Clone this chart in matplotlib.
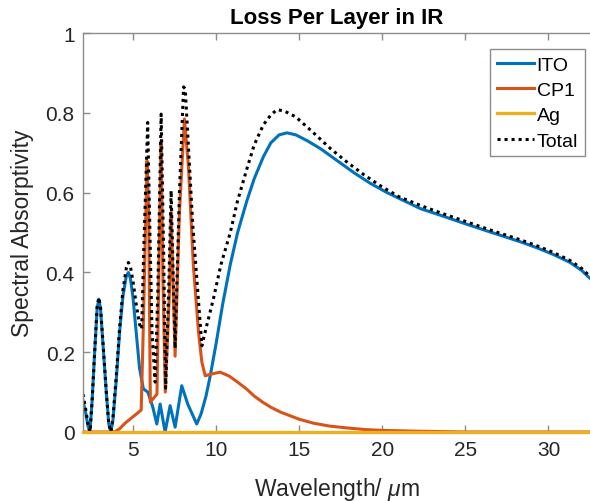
import matplotlib.pyplot as plt

plt.rcParams['font.family'] = ['Liberation Sans', 'DejaVu Sans']
plt.rcParams['mathtext.fontset'] = 'custom'
plt.rcParams['mathtext.rm'] = 'Liberation Sans'
plt.rcParams['mathtext.it'] = 'Liberation Sans:italic'

# absorptivity per layer (wavelength in um)
wl_ito = [2.0, 2.15, 2.3, 2.42, 2.55, 2.7, 2.85, 2.95, 3.05, 3.2, 3.4, 3.55, 3.68, 3.8,
          4.0, 4.2, 4.4, 4.6, 4.73, 4.85, 5.0, 5.2, 5.4, 5.63,
          5.9, 6.2, 6.44, 6.64, 6.94, 7.24, 7.54, 7.94, 8.3, 8.84, 9.1, 9.4, 9.65, 10.0,
          10.4, 10.86, 11.3, 11.86, 12.3, 12.85, 13.3, 13.8, 14.27, 14.8, 15.5, 16.3,
          17.3, 18.3, 19.3, 20.3, 21.3, 22.3, 23.6, 25.0, 26.6, 28.3, 29.3, 30.3, 31.3,
          32.0, 32.5]
ito = [0.078, 0.05, 0.015, 0.0, 0.08, 0.2, 0.31, 0.333, 0.31, 0.22, 0.1, 0.02, 0.0, 0.03,
       0.13, 0.25, 0.34, 0.39, 0.40, 0.385, 0.34, 0.25, 0.16, 0.108,
       0.10, 0.062, 0.02, 0.07, 0.0, 0.066, 0.012, 0.116, 0.07, 0.02, 0.045, 0.09, 0.14, 0.22,
       0.32, 0.42, 0.50, 0.58, 0.635, 0.69, 0.725, 0.745, 0.75, 0.745, 0.73, 0.71,
       0.68, 0.65, 0.623, 0.60, 0.58, 0.56, 0.542, 0.522, 0.50, 0.477, 0.462, 0.445, 0.425,
       0.405, 0.385]

wl_cp1 = [2.0, 3.9, 4.2, 4.53, 5.0, 5.5, 5.62, 5.85, 5.95, 6.05, 6.45, 6.6, 6.7, 6.8,
          6.95, 7.2, 7.3, 7.4, 7.54, 7.8, 8.1, 8.34, 8.64, 8.95, 9.15, 9.35, 9.7, 10.25,
          10.8, 11.3, 11.86, 12.3, 12.8, 13.3, 13.87, 14.5, 15.0, 15.87, 16.8, 17.9, 19.0,
          20.0, 22.0, 25.0, 32.5]
cp1 = [0.0, 0.0, 0.008, 0.022, 0.038, 0.055, 0.25, 0.68, 0.55, 0.075, 0.095, 0.5, 0.73, 0.40,
       0.10, 0.35, 0.55, 0.40, 0.19, 0.55, 0.785, 0.667, 0.417, 0.25, 0.175, 0.141, 0.145, 0.15,
       0.14, 0.125, 0.107, 0.09, 0.075, 0.062, 0.05, 0.04, 0.032, 0.022, 0.015, 0.01, 0.006,
       0.004, 0.002, 0.0, 0.0]

wl_ag = [2.0, 10.0, 20.0, 32.5]
ag = [0.0, 0.0, 0.0, 0.0]

wl_total = [2.0, 2.15, 2.3, 2.42, 2.55, 2.7, 2.85, 2.95, 3.05, 3.2, 3.4, 3.55, 3.68, 3.8,
            4.0, 4.2, 4.4, 4.6, 4.73, 4.85, 5.0, 5.2, 5.4, 5.53,
            5.65, 5.89, 6.0, 6.15, 6.34, 6.5, 6.7, 6.85, 6.97, 7.15, 7.3, 7.42, 7.54, 7.8,
            8.05, 8.15, 8.6, 9.15, 9.4, 9.84, 10.3, 10.86, 11.3, 11.86, 12.3, 12.85, 13.3,
            13.67, 14.1, 14.8, 15.87, 16.9, 17.9, 18.9, 19.9, 21.0, 22.3, 23.6, 25.0, 26.6,
            28.3, 29.3, 30.3, 31.3, 32.0, 32.5]
total = [0.095, 0.06, 0.02, 0.0, 0.08, 0.2, 0.315, 0.337, 0.315, 0.225, 0.1, 0.02, 0.0, 0.035,
         0.14, 0.26, 0.355, 0.41, 0.425, 0.415, 0.38, 0.32, 0.27, 0.258,
         0.45, 0.776, 0.55, 0.25, 0.125, 0.35, 0.797, 0.45, 0.11, 0.35, 0.605, 0.40, 0.21, 0.60,
         0.865, 0.86, 0.52, 0.216, 0.26, 0.333, 0.42, 0.50, 0.58, 0.66, 0.72, 0.77, 0.795,
         0.808, 0.805, 0.79, 0.75, 0.71, 0.676, 0.645, 0.617, 0.59, 0.568, 0.548, 0.528, 0.505,
         0.482, 0.467, 0.45, 0.43, 0.41, 0.39]

fig = plt.figure(figsize=(5.9, 5.02), dpi=100)
ax = fig.add_axes([0.1407, 0.1375, 0.8593, 0.7945])

ax.plot(wl_ito, ito, color='#0072BD', lw=2.2, label='ITO')
ax.plot(wl_cp1, cp1, color='#D95319', lw=2.2, label='CP1')
ax.plot(wl_ag, ag, color='#EDB120', lw=2.4, label='Ag', clip_on=False, zorder=3)
ax.plot(wl_total, total, color='black', lw=2.2, linestyle=(0, (1, 1.3)), label='Total')

ax.set_xlim(2, 32.5)
ax.set_ylim(0, 1)
ax.set_xticks([5, 10, 15, 20, 25, 30])
ax.set_yticks([0, 0.2, 0.4, 0.6, 0.8, 1])
ax.set_yticklabels(['0', '0.2', '0.4', '0.6', '0.8', '1'])

ax.spines['right'].set_visible(False)
for s in ['left', 'top', 'bottom']:
    ax.spines[s].set_color('#8c8c8c')
    ax.spines[s].set_linewidth(1.0)
ax.tick_params(direction='in', length=5, width=1, color='#8c8c8c', top=True,
               labelsize=15, labelcolor='#262626', pad=6)

ax.set_title('Loss Per Layer in IR', fontsize=16, fontweight='bold', pad=7)
ax.set_xlabel(r'Wavelength/ $\mu$m', fontsize=16.5, color='#262626', labelpad=11)
ax.set_ylabel('Spectral Absorptivity', fontsize=16.5, color='#262626', labelpad=8)

leg = ax.legend(loc='upper right', bbox_to_anchor=(0.99, 0.96), fontsize=14,
                fancybox=False, framealpha=1, edgecolor='#8c8c8c', handlelength=1.9,
                handletextpad=0.15, labelspacing=0.4, borderpad=0.35, borderaxespad=0)
leg.get_frame().set_linewidth(1.0)

fig.savefig('out.png', dpi=100)
